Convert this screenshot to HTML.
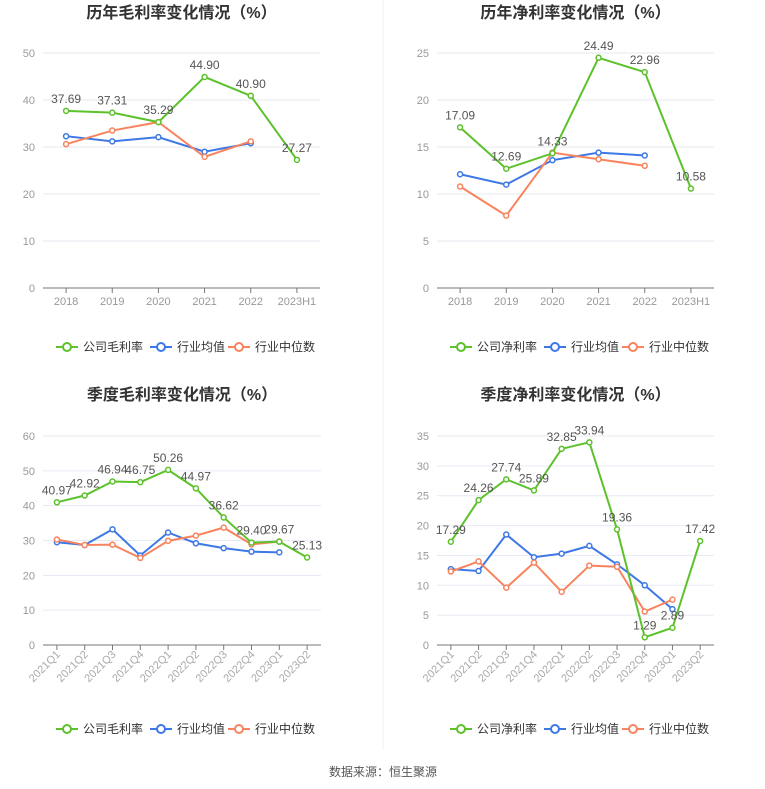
<!DOCTYPE html>
<html><head><meta charset="utf-8">
<style>
body{margin:0;width:765px;height:789px;background:#fff;font-family:"Liberation Sans","Noto Sans CJK SC",sans-serif;overflow:hidden}
svg{position:absolute;left:0;top:0}
</style></head><body>
<svg id="s" width="765" height="789"></svg>
<script>
const yearCats=["2018","2019","2020","2021","2022","2023H1"];
const qCats=["2021Q1","2021Q2","2021Q3","2021Q4","2022Q1","2022Q2","2022Q3","2022Q4","2023Q1","2023Q2"];
const grossCompany=[37.69,37.31,35.29,44.90,40.90,27.27];
const grossAvg=[32.3,31.2,32.1,29.0,30.8];
const grossMed=[30.6,33.5,35.3,27.9,31.2];
const netCompany=[17.09,12.69,14.33,24.49,22.96,10.58];
const netAvg=[12.1,11.0,13.6,14.4,14.1];
const netMed=[10.8,7.7,14.4,13.7,13.0];
const qGrossCompany=[40.97,42.92,46.94,46.75,50.26,44.97,36.62,29.40,29.67,25.13];
const qGrossAvg=[29.5,28.7,33.2,25.7,32.3,29.2,27.8,26.8,26.6];
const qGrossMed=[30.3,28.7,28.8,25.0,29.9,31.4,33.7,28.9,29.7];
const qNetCompany=[17.29,24.26,27.74,25.89,32.85,33.94,19.36,1.29,2.89,17.42];
const qNetAvg=[12.7,12.4,18.5,14.7,15.3,16.6,13.5,10.0,6.0];
const qNetMed=[12.3,14.0,9.6,13.8,8.9,13.3,13.1,5.6,7.6];
const gTicks=[0,10,20,30,40,50];
const nTicks=[0,5,10,15,20,25];
const qgTicks=[0,10,20,30,40,50,60];
const qnTicks=[0,5,10,15,20,25,30,35];

const NS="http://www.w3.org/2000/svg";
const svg=document.getElementById('s');
function el(tag,attrs,parent,text){const e=document.createElementNS(NS,tag);for(const k in attrs)e.setAttribute(k,attrs[k]);if(text!==undefined)e.textContent=text;(parent||svg).appendChild(e);return e;}
const GREEN="#5cc12b",BLUE="#3d78e6",ORANGE="#f7845e";

function chart(o){
  const g=el('g',{});
  
  
  const x0=o.x0,x1=o.x1,yb=o.yb,yt=o.yt,n=o.cats.length;
  const step=(x1-x0)/n;
  const X=i=>x0+step*(i+0.5);
  const maxT=o.ticks[o.ticks.length-1];
  const Y=v=>yb-(v/maxT)*(yb-yt);
  const t=el('text',{x:(x0+x1)/2,y:o.ty,'text-anchor':'middle','font-size':16,'font-weight':'bold',fill:'#333'},g,o.title);
  
  o.ticks.forEach(v=>{
    if(v>0){const l=el('line',{x1:x0,x2:x1,y1:Y(v),y2:Y(v),stroke:'#e6eaf2'},g);
      }
    const tl=el('text',{x:x0-8,y:Y(v)+4,'text-anchor':'end','font-size':11,fill:'#999'},g,v);
    
  });
  const ax=el('line',{x1:x0,x2:x1,y1:yb,y2:yb,stroke:'#777'},g);
  
  o.cats.forEach((c,i)=>{
    el('line',{x1:X(i),x2:X(i),y1:yb,y2:yb+5,stroke:'#777'},g);
    let tl;
    if(o.rot){tl=el('text',{x:X(i)+4,y:yb+10,'text-anchor':'end','font-size':11,fill:'#aaa',transform:`rotate(-45 ${X(i)+4} ${yb+10})`},g,c);}
    else tl=el('text',{x:X(i),y:yb+17,'text-anchor':'middle','font-size':11,fill:'#999'},g,c);
    
  });
  const series=[[o.avg,BLUE,'industry-average-line'],[o.med,ORANGE,'industry-median-line'],[o.comp,GREEN,'company-line']];
  series.forEach(([d,col,nm])=>{
    const p=el('polyline',{points:d.map((v,i)=>X(i)+','+Y(v)).join(' '),fill:'none',stroke:col,'stroke-width':2},g);
    
    d.forEach((v,i)=>{const c=el('circle',{cx:X(i),cy:Y(v),r:2.5,fill:'#fff',stroke:col,'stroke-width':1.5},g);
      });
  });
  o.comp.forEach((v,i)=>{const l=el('text',{x:X(i),y:Y(v)-8,'text-anchor':'middle','font-size':12,fill:'#555'},g,v.toFixed(2));
    });
  // legend
  const lx=o.lx,ly=o.ly;
  [[o.compName,GREEN,0],['行业均值',BLUE,94],['行业中位数',ORANGE,172]].forEach(([nm,col,dx])=>{
    const lg=el('g',{},g);
    
    el('line',{x1:lx+dx,x2:lx+dx+22,y1:ly,y2:ly,stroke:col,'stroke-width':2},lg);
    el('circle',{cx:lx+dx+11,cy:ly,r:4,fill:'#fff',stroke:col,'stroke-width':2},lg);
    el('text',{x:lx+dx+27,y:ly+4,'font-size':12,fill:'#333'},lg,nm);
  });
}
chart({name:'annual-gross-margin-chart',title:'历年毛利率变化情况（%）',cats:yearCats,comp:grossCompany,avg:grossAvg,med:grossMed,ticks:gTicks,x0:43,x1:320,yb:288,yt:53,ty:18,lx:56,ly:347,compName:'公司毛利率'});
chart({name:'annual-net-margin-chart',title:'历年净利率变化情况（%）',cats:yearCats,comp:netCompany,avg:netAvg,med:netMed,ticks:nTicks,x0:437,x1:714,yb:288,yt:53,ty:18,lx:450,ly:347,compName:'公司净利率'});
chart({name:'quarterly-gross-margin-chart',title:'季度毛利率变化情况（%）',cats:qCats,comp:qGrossCompany,avg:qGrossAvg,med:qGrossMed,ticks:qgTicks,x0:43,x1:321,yb:645,yt:436,ty:400,lx:56,ly:729,compName:'公司毛利率',rot:true});
chart({name:'quarterly-net-margin-chart',title:'季度净利率变化情况（%）',cats:qCats,comp:qNetCompany,avg:qNetAvg,med:qNetMed,ticks:qnTicks,x0:437,x1:714,yb:645,yt:436,ty:400,lx:450,ly:729,compName:'公司净利率',rot:true});
const dv=el('line',{x1:383,x2:383,y1:0,y2:750,stroke:'#f2f2f2'});

const f=el('text',{x:383,y:776,'text-anchor':'middle','font-size':12,fill:'#555'},svg,'数据来源：恒生聚源');

</script>
</body></html>
